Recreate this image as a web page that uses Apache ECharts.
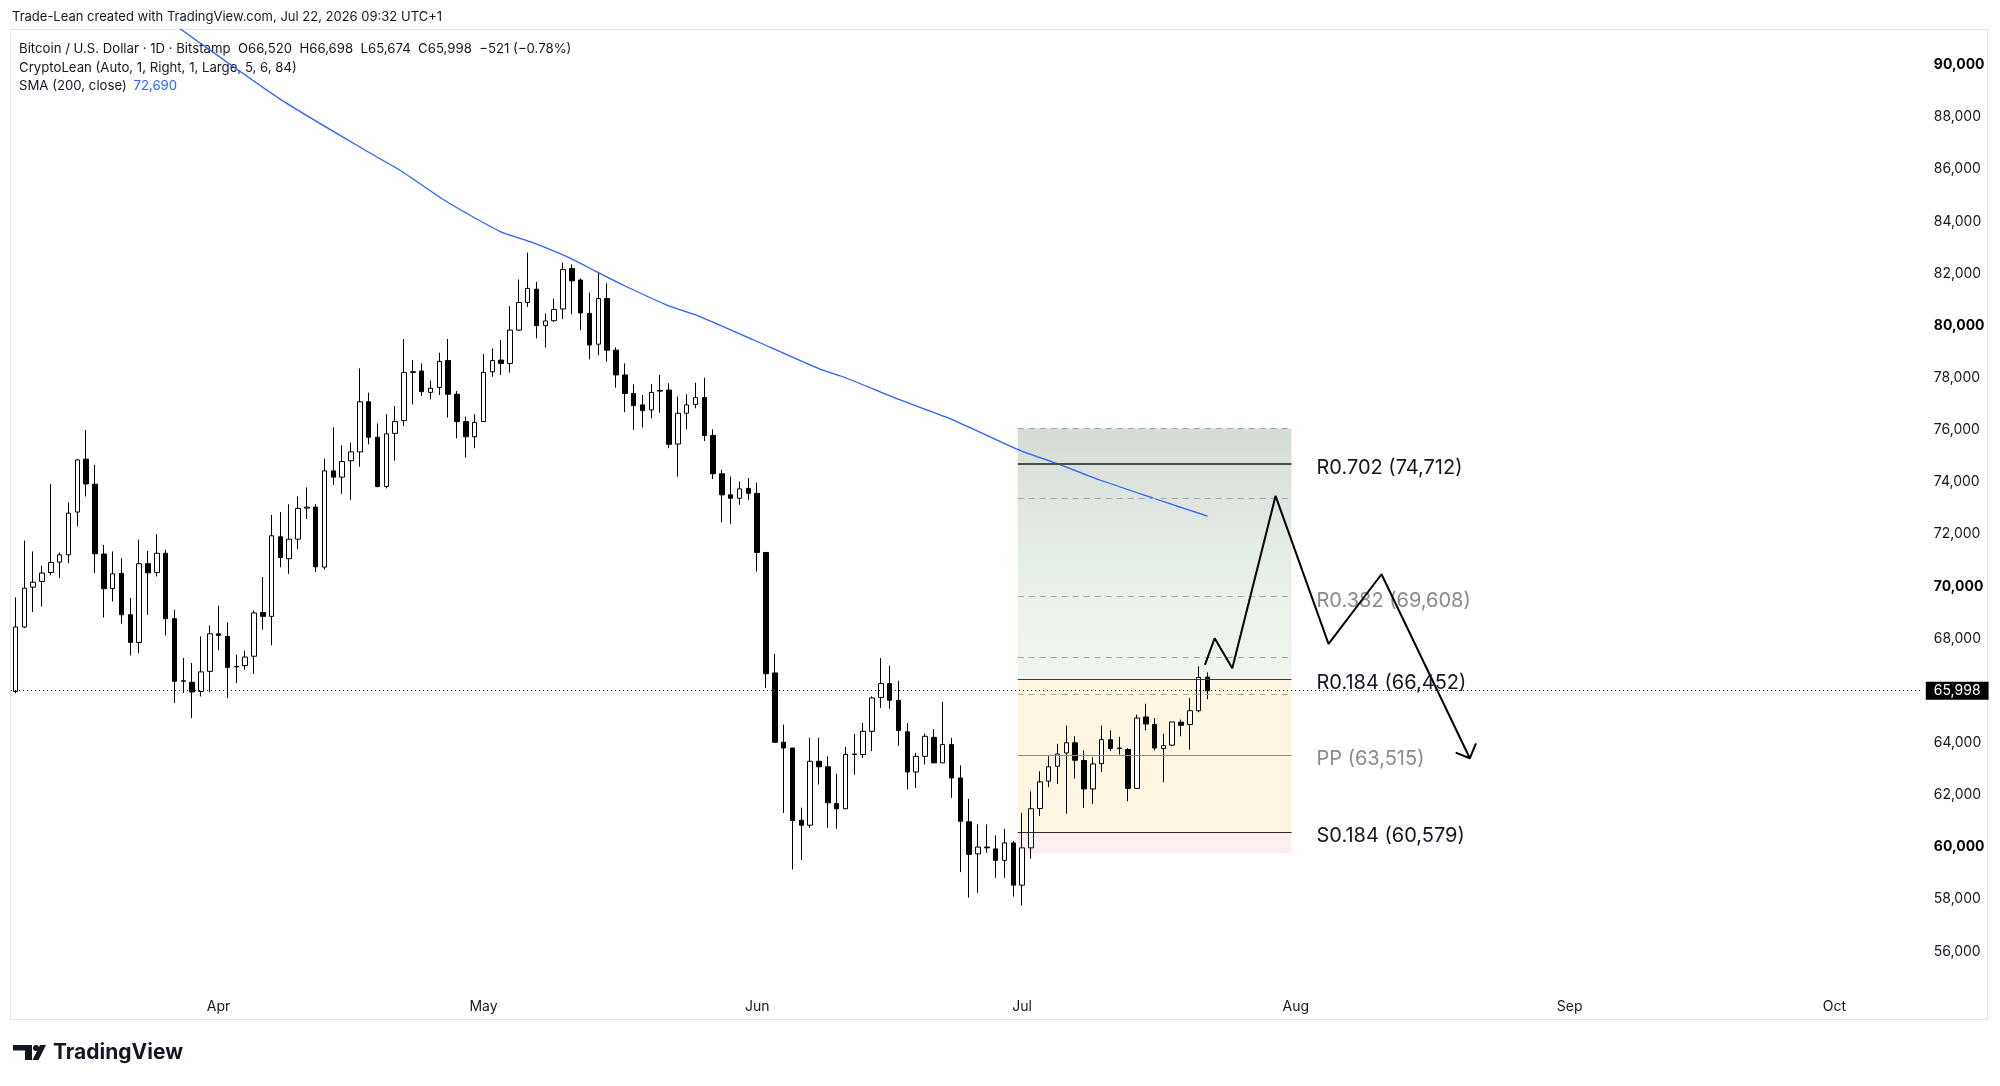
<!DOCTYPE html>
<html>
<head>
<meta charset="utf-8">
<script src="https://cdn.jsdelivr.net/npm/echarts@6/dist/echarts.min.js"></script>
<style>
html, body { margin: 0; padding: 0; background: #fff; }
#chart { width: 2000px; height: 1086px; }
</style>
</head>
<body>
<div id="chart"></div>
<script>
// daily BTC/USD candles, day 0 = 2026-03-09, each row [open, high, low, close]
var ohlc = [
  [65970, 69580, 65900, 68440], [68440, 71760, 68400, 69930], [69970, 71340, 69010, 70160], [70190, 70790, 69230, 70510],
  [70530, 73920, 70420, 70920], [70930, 71300, 70320, 71210], [71210, 73220, 70890, 72810], [72850, 74880, 72300, 74850],
  [74880, 76000, 73450, 73930], [73920, 74660, 70510, 71250], [71240, 71590, 68810, 69910], [69920, 71340, 69420, 70480],
  [70500, 71080, 68570, 68910], [68910, 69550, 67350, 67850], [67850, 71790, 67440, 70870], [70870, 71360, 68910, 70520],
  [70530, 72000, 70380, 71270], [71270, 71400, 68120, 68760], [68760, 69100, 65530, 66360], [66360, 67250, 65910, 66380],
  [66320, 67060, 64950, 65950], [65970, 68080, 65780, 66720], [66740, 68500, 65940, 68180], [68180, 69260, 67550, 68120],
  [68080, 68620, 65720, 66890], [66930, 67380, 66290, 66910], [66960, 67530, 66800, 67290], [67320, 69080, 66640, 68980],
  [69000, 70360, 68340, 68850], [68850, 72740, 67740, 71940], [71900, 72850, 70730, 71110], [71060, 73150, 70480, 71810],
  [71810, 73450, 71430, 72990], [73000, 73800, 72580, 73040], [73040, 73150, 70550, 70750], [70740, 74890, 70640, 74430],
  [74430, 76100, 73890, 74190], [74190, 75410, 73550, 74790], [74820, 75510, 73320, 75160], [75160, 78360, 74590, 77080],
  [77080, 77430, 75450, 75720], [75720, 76250, 73800, 73830], [73830, 76600, 73760, 75850], [75870, 76920, 74820, 76320],
  [76360, 79490, 76150, 78200], [78230, 78680, 76980, 78210], [78260, 78550, 77300, 77470], [77440, 77890, 77170, 77600],
  [77630, 78960, 77340, 78630], [78660, 79490, 76470, 77370], [77370, 77490, 75680, 76320], [76320, 76510, 74940, 75740],
  [75740, 76600, 75300, 76290], [76320, 78910, 76310, 78210], [78230, 79130, 78040, 78660], [78680, 79450, 78110, 78550],
  [78550, 80750, 78200, 79830], [79830, 81770, 79800, 80890], [80890, 82800, 80720, 81430], [81400, 81680, 79510, 80000],
  [80000, 80470, 79170, 80180], [80190, 81040, 80150, 80620], [80640, 82420, 80250, 82150], [82190, 82350, 80440, 81720],
  [81750, 81810, 79830, 80490], [80470, 81270, 78710, 79260], [79290, 82030, 78870, 81040], [81040, 81620, 78620, 79060],
  [79060, 79170, 77620, 78110], [78110, 78550, 76680, 77400], [77400, 77750, 76000, 76930], [76960, 77340, 76090, 76740],
  [76770, 77760, 76450, 77440], [77510, 78110, 76660, 77490], [77530, 77790, 75300, 75450], [75460, 77280, 74210, 76640],
  [76640, 77370, 76020, 76960], [76980, 77810, 76830, 77240], [77240, 78000, 75580, 75790], [75790, 76020, 74120, 74320],
  [74320, 74470, 72460, 73510], [73510, 74210, 72400, 73380], [73380, 74020, 73130, 73740], [73760, 74150, 73320, 73570],
  [73570, 73980, 70570, 71300], [71300, 71310, 66100, 66650], [66680, 67410, 63990, 64020], [64020, 64700, 61310, 63800],
  [63800, 63810, 59140, 61020], [61030, 61510, 59500, 60840], [60840, 64190, 60740, 63290], [63290, 64190, 62400, 63080],
  [63080, 63480, 60740, 61700], [61670, 62810, 60700, 61470], [61470, 63840, 61460, 63550], [63550, 64340, 62780, 63570],
  [63550, 64760, 63420, 64440], [64440, 65780, 63680, 65720], [65740, 67250, 65340, 66270], [66270, 66960, 65310, 65630],
  [65630, 66380, 63890, 64470], [64420, 64760, 62210, 62880], [62880, 63610, 62270, 63480], [63480, 64350, 63170, 64250],
  [64210, 64530, 63220, 63230], [63230, 65570, 63220, 63930], [63930, 64190, 61890, 62650], [62650, 63130, 59040, 60990],
  [60970, 61850, 58060, 59720], [59740, 60870, 58250, 60000], [60000, 60870, 59780, 59970], [59930, 60450, 58820, 59490],
  [59490, 60700, 58820, 60160], [60160, 60230, 58100, 58540], [58540, 61310, 57760, 59970], [59970, 62140, 59550, 61470],
  [61480, 62910, 61190, 62500], [62530, 63480, 62300, 63080], [63100, 63960, 62420, 63570], [63610, 64660, 61280, 64000],
  [64000, 64250, 62630, 63330], [63320, 63710, 61500, 62230], [62230, 63450, 61660, 63190], [63200, 64660, 62880, 64120],
  [64120, 64480, 63680, 63780], [63780, 64230, 63550, 63800], [63740, 63800, 61760, 62250], [62250, 65080, 62240, 64950],
  [64990, 65500, 64480, 64720], [64700, 64950, 63710, 63800], [63780, 64340, 62490, 63890], [63910, 64800, 63870, 64800],
  [64790, 64890, 64250, 64670], [64700, 65720, 63740, 65230], [65230, 66930, 65170, 66510], [66520, 66698, 65674, 65998]
];

// month ticks on the time scale (day numbers counted from day 0)
var monthDays = [23, 53, 84, 114, 145, 176, 206];
var monthNames = ['Apr', 'May', 'Jun', 'Jul', 'Aug', 'Sep', 'Oct'];

// SMA(200)
var smaDays = [18.6, 30.1, 40.1, 43.5, 48.8, 54.9, 58.3, 62.8, 65.8, 68.8, 73.7, 77.5, 83.6, 91.1, 93.7, 100.2, 106.2, 113.8, 117.9, 122.8, 128.9, 135];
var smaValues = [91400, 88660, 86630, 85970, 84760, 83610, 83220, 82590, 82070, 81560, 80800, 80350, 79450, 78330, 78040, 77150, 76380, 75210, 74720, 74080, 73380, 72690];

// CryptoLean monthly pivots for July
var pivotNames = ['R0.786', 'R0.702', 'R0.618', 'R0.382', 'R0.236', 'R0.184', 'R0.146', 'PP', 'S0.184'];
var pivotValues = [76052, 74712, 73372, 69608, 67279, 66452, 65844, 63515, 60579];
var pivotFloor = 59751;
var pivotFrom = 113.5, pivotTo = 144.5;

// hand-drawn projection path
var pathDays = [134.7, 135.8, 137.8, 142.7, 148.7, 154.7, 164.7];
var pathPrices = [66986, 68010, 66859, 73468, 67791, 70465, 63407];
var arrowDays = [163.1, 164.7, 165.4];
var arrowPrices = [63622, 63407, 63982];

var lastClose = 65998, lastSma = 72690;

var FONT = 'Inter, Roboto, sans-serif';

function fmt(v) {
  return String(v).replace(/\B(?=(\d{3})+(?!\d))/g, ',');
}

var chart = echarts.init(document.getElementById('chart'));

var candleData = ohlc.map(function(d, i) {
  return [i, d[0], d[3], d[2], d[1]];
});

var labelColor = { 'R0.702': '#131722', 'R0.382': '#8a8a8a', 'R0.184': '#131722', 'PP': '#8a8a8a', 'S0.184': '#131722' };
var solidStyle = {
  'R0.702': { color: '#4b524e', width: 2 },
  'R0.184': { color: '#3a3a36', width: 1.2 },
  'PP': { color: '#8f8c7e', width: 1 },
  'S0.184': { color: '#2b2b28', width: 1.2 }
};

var pivotLines = pivotValues.map(function(v, i) {
  var name = pivotNames[i];
  var ls = solidStyle[name] ? { type: 'solid', color: solidStyle[name].color, width: solidStyle[name].width }
                            : { type: [6, 5], color: '#a3a6a4', width: 1 };
  var lab = labelColor[name] ? {
    show: true, position: 'end', distance: 25, formatter: name + ' (' + fmt(v) + ')',
    color: labelColor[name], fontSize: 20, fontFamily: FONT, offset: [0, 4]
  } : { show: false };
  return [
    { coord: [pivotFrom, v], lineStyle: ls, label: lab },
    { coord: [pivotTo, v], lineStyle: ls, label: lab }
  ];
});

var idx = function(name) { return pivotValues[pivotNames.indexOf(name)]; };

var option = {
  animation: false,
  backgroundColor: '#fff',
  grid: { left: 11.1, right: 77.2, top: 29.5, bottom: 82.5 },
  xAxis: {
    type: 'value', min: -0.5, max: 216,
    axisLine: { show: false }, axisTick: { show: false }, splitLine: { show: false },
    axisLabel: {
      customValues: monthDays,
      formatter: function(v) { return monthNames[monthDays.indexOf(v)] || ''; },
      color: '#131722', fontSize: 14, fontFamily: FONT, margin: 3, verticalAlign: 'middle'
    }
  },
  yAxis: {
    type: 'value', position: 'right', min: 54000, max: 91360, interval: 2000,
    axisLine: { show: false }, axisTick: { show: false }, splitLine: { show: false },
    axisLabel: {
      margin: 11, showMinLabel: false, showMaxLabel: false,
      color: '#131722', fontSize: 14, fontFamily: FONT,
      formatter: function(v) { return v % 10000 === 0 ? '{b|' + fmt(v) + '}' : fmt(v); },
      rich: { b: { fontWeight: 'bold', fontSize: 14, fontFamily: FONT, color: '#000' } }
    }
  },
  series: [
    {
      // pivot zones and levels
      type: 'line', z: 1, silent: true, symbol: 'none',
      data: [[pivotFrom, idx('PP')]],
      markArea: {
        silent: true,
        data: [
          [{ xAxis: pivotFrom, yAxis: pivotValues[0], itemStyle: { color: { type: 'linear', x: 0, y: 0, x2: 0, y2: 1,
              colorStops: [{ offset: 0, color: '#d4dcd6' }, { offset: 0.55, color: '#e6efe7' }, { offset: 1, color: '#f0f6ee' }] } } },
           { xAxis: pivotTo, yAxis: idx('R0.184') }],
          [{ xAxis: pivotFrom, yAxis: idx('R0.184'), itemStyle: { color: '#fdf6e3' } },
           { xAxis: pivotTo, yAxis: idx('S0.184') }],
          [{ xAxis: pivotFrom, yAxis: idx('S0.184'), itemStyle: { color: '#fcefef' } },
           { xAxis: pivotTo, yAxis: pivotFloor }]
        ]
      },
      markLine: { silent: true, symbol: ['none', 'none'], data: pivotLines }
    },
    {
      type: 'candlestick', z: 3, barWidth: 5,
      data: candleData,
      encode: { x: 0, y: [1, 2, 3, 4] },
      itemStyle: { color: '#ffffff', color0: '#000000', borderColor: '#000000', borderColor0: '#000000', borderWidth: 1 },
      markLine: {
        silent: true, symbol: ['none', 'none'],
        data: [{ yAxis: lastClose }],
        lineStyle: { type: [1, 3], color: '#000', width: 1 },
        label: { show: true, position: 'end', distance: 3, formatter: fmt(lastClose), color: '#fff',
          backgroundColor: '#000', padding: [2, 8], fontSize: 14, fontFamily: FONT }
      }
    },
    {
      type: 'line', z: 4, symbol: 'none', smooth: 0.2,
      data: smaDays.map(function(d, i) { return [d, smaValues[i]]; }),
      lineStyle: { color: '#2962ff', width: 1.3 },
      markLine: {
        silent: true, symbol: ['none', 'none'],
        data: [{ yAxis: lastSma }],
        lineStyle: { opacity: 0 },
        label: { show: true, position: 'end', distance: 3, formatter: fmt(lastSma), color: '#fff',
          backgroundColor: '#2962ff', padding: [2, 8], fontSize: 14, fontFamily: FONT }
      }
    },
    {
      type: 'line', z: 5, symbol: 'none',
      data: pathDays.map(function(d, i) { return [d, pathPrices[i]]; }),
      lineStyle: { color: '#000', width: 2 }
    },
    {
      type: 'line', z: 5, symbol: 'none',
      data: arrowDays.map(function(d, i) { return [d, arrowPrices[i]]; }),
      lineStyle: { color: '#000', width: 2 }
    }
  ],
  graphic: [
    { type: 'rect', silent: true, shape: { x: 10.5, y: 29.5, width: 1977, height: 990 },
      style: { fill: 'none', stroke: '#e0e3eb', lineWidth: 1 } },
    { type: 'text', left: 12, top: 11, style: { text: 'Trade-Lean created with TradingView.com, Jul 22, 2026 09:32 UTC+1',
        fill: '#131722', fontSize: 13, fontFamily: FONT } },
    { type: 'text', left: 19, top: 43, style: { text: 'Bitcoin / U.S. Dollar · 1D · Bitstamp  O66,520  H66,698  L65,674  C65,998  \u2212521 (\u22120.78%)',
        fill: '#131722', fontSize: 13.2, fontFamily: FONT } },
    { type: 'text', left: 19, top: 62, style: { text: 'CryptoLean (Auto, 1, Right, 1, Large, 5, 6, 84)',
        fill: '#131722', fontSize: 13.2, fontFamily: FONT } },
    { type: 'text', left: 19, top: 80, style: { text: '{a|SMA (200, close)}  {b|' + fmt(lastSma) + '}',
        rich: { a: { fill: '#131722', fontSize: 13.2, fontFamily: FONT }, b: { fill: '#2962ff', fontSize: 13.2, fontFamily: FONT } } } },
    // TradingView logo
    { type: 'polygon', shape: { points: [[13, 1045], [32, 1045], [32, 1060], [25, 1060], [25, 1050.5], [13, 1050.5]] }, style: { fill: '#131722' } },
    { type: 'circle', shape: { cx: 36, cy: 1048, r: 3 }, style: { fill: '#131722' } },
    { type: 'polygon', shape: { points: [[40, 1045], [46, 1045], [38.5, 1060], [32.5, 1060]] }, style: { fill: '#131722' } },
    { type: 'text', left: 53, top: 1042, style: { text: 'TradingView', fill: '#131722', fontSize: 21, fontWeight: 'bold', fontFamily: FONT } }
  ]
};

chart.setOption(option);
</script>
</body>
</html>
